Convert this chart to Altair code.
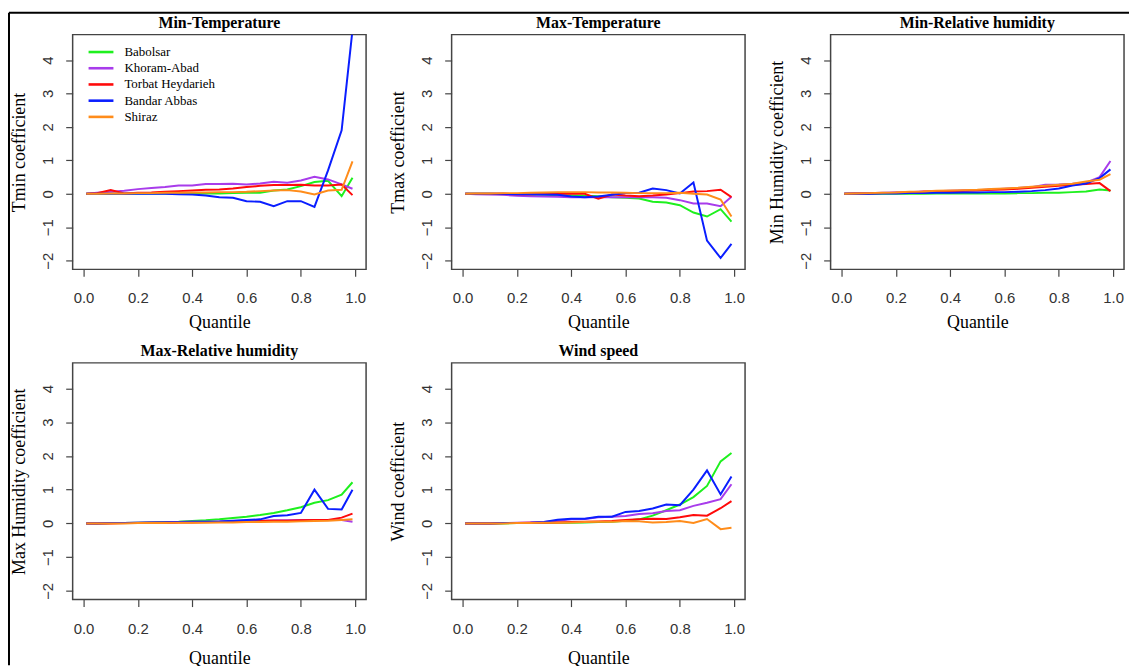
import altair as alt
import pandas as pd

quantiles = [0.01, 0.05, 0.10, 0.15, 0.20, 0.25, 0.30, 0.35, 0.40, 0.45, 0.50,
             0.55, 0.60, 0.65, 0.70, 0.75, 0.80, 0.85, 0.90, 0.95, 0.99]
stations = ["Babolsar", "Khoram-Abad", "Torbat Heydarieh", "Bandar Abbas", "Shiraz"]
colors = ["#1EF01E", "#A83CEB", "#FF0A0A", "#0A1EFF", "#FF8C1A"]

panel_titles = ["Min-Temperature", "Max-Temperature", "Min-Relative humidity",
                "Max-Relative humidity", "Wind speed"]
y_titles = ["Tmin coefficient", "Tmax coefficient", "Min Humidity coefficient",
            "Max Humidity coefficient", "Wind coefficient"]

# Min-Temperature
tmin_babolsar = [0, 0, 0, 0, 0.01, 0.01, 0.01, 0.01, 0.01, 0.01, 0.01, 0.02, 0.03, 0.03, 0.10, 0.13, 0.23, 0.35, 0.39, -0.07, 0.48]
tmin_khoram = [0, 0.03, 0.06, 0.09, 0.14, 0.17, 0.20, 0.25, 0.25, 0.29, 0.29, 0.30, 0.28, 0.31, 0.36, 0.33, 0.40, 0.51, 0.43, 0.28, 0.15]
tmin_torbat = [0, 0.02, 0.11, 0.01, 0.03, 0.04, 0.06, 0.08, 0.10, 0.12, 0.13, 0.16, 0.20, 0.24, 0.26, 0.26, 0.27, 0.25, 0.25, 0.28, -0.04]
tmin_bandar = [0, 0, 0, 0, 0, 0, 0, -0.01, -0.02, -0.05, -0.10, -0.12, -0.22, -0.24, -0.37, -0.22, -0.22, -0.39, 0.70, 1.90, 4.90]
tmin_shiraz = [0, 0, 0.01, 0.01, 0.02, 0.02, 0.03, 0.03, 0.04, 0.04, 0.05, 0.05, 0.06, 0.08, 0.10, 0.11, 0.07, -0.02, 0.10, 0.12, 0.97]

# Max-Temperature
tmax_babolsar = [0, 0, 0, -0.01, -0.02, -0.03, -0.03, -0.04, -0.05, -0.06, -0.07, -0.10, -0.12, -0.14, -0.24, -0.26, -0.34, -0.56, -0.68, -0.46, -0.83]
tmax_khoram = [0, -0.01, -0.02, -0.03, -0.06, -0.07, -0.08, -0.09, -0.10, -0.10, -0.10, -0.10, -0.10, -0.10, -0.10, -0.12, -0.19, -0.29, -0.29, -0.37, -0.09]
tmax_torbat = [0, 0, 0, 0, -0.01, -0.01, 0, 0, 0, 0, -0.15, -0.02, -0.05, -0.07, -0.05, -0.02, 0.02, 0.07, 0.08, 0.12, -0.10]
tmax_bandar = [0, 0, 0, 0, -0.01, -0.01, -0.02, -0.03, -0.08, -0.10, -0.08, -0.03, 0.02, 0.03, 0.16, 0.11, 0.01, 0.34, -1.40, -1.92, -1.50]
tmax_shiraz = [0, 0.01, 0.01, 0.02, 0.02, 0.03, 0.04, 0.05, 0.05, 0.05, 0.04, 0.04, 0.03, 0.02, 0.02, 0.02, 0.03, 0, -0.02, -0.17, -0.68]

# Min-Relative humidity
rhmin_babolsar = [0, 0, 0, 0, 0, 0, 0, 0.01, 0.01, 0.01, 0.01, 0.01, 0.01, 0.02, 0.02, 0.03, 0.03, 0.05, 0.07, 0.13, 0.10]
rhmin_khoram = [0, 0.01, 0.02, 0.03, 0.04, 0.05, 0.07, 0.08, 0.09, 0.10, 0.11, 0.13, 0.15, 0.17, 0.20, 0.27, 0.28, 0.30, 0.33, 0.50, 0.98]
rhmin_torbat = [0, 0.01, 0.01, 0.02, 0.03, 0.04, 0.06, 0.07, 0.08, 0.09, 0.10, 0.12, 0.13, 0.15, 0.18, 0.21, 0.24, 0.27, 0.29, 0.32, 0.08]
rhmin_bandar = [0, 0, 0, 0.01, 0.01, 0.02, 0.02, 0.03, 0.03, 0.04, 0.04, 0.05, 0.05, 0.06, 0.08, 0.11, 0.16, 0.25, 0.31, 0.47, 0.73]
rhmin_shiraz = [0, 0.01, 0.02, 0.03, 0.04, 0.06, 0.07, 0.09, 0.10, 0.11, 0.12, 0.14, 0.16, 0.18, 0.21, 0.24, 0.27, 0.30, 0.37, 0.42, 0.59]

# Max-Relative humidity
rhmax_babolsar = [0, 0, 0.01, 0.01, 0.02, 0.03, 0.04, 0.05, 0.07, 0.09, 0.12, 0.16, 0.20, 0.25, 0.31, 0.39, 0.48, 0.61, 0.69, 0.85, 1.22]
rhmax_khoram = [0, 0, 0.01, 0.01, 0.02, 0.02, 0.03, 0.04, 0.05, 0.05, 0.06, 0.07, 0.08, 0.08, 0.09, 0.09, 0.10, 0.10, 0.10, 0.10, 0.05]
rhmax_torbat = [0, 0, 0, 0.01, 0.01, 0.02, 0.02, 0.03, 0.03, 0.04, 0.04, 0.05, 0.06, 0.07, 0.08, 0.08, 0.09, 0.10, 0.10, 0.17, 0.29]
rhmax_bandar = [0, 0, 0.01, 0.01, 0.02, 0.03, 0.03, 0.04, 0.05, 0.05, 0.06, 0.08, 0.10, 0.12, 0.22, 0.24, 0.31, 1.00, 0.43, 0.41, 1.00]
rhmax_shiraz = [0, 0, 0, 0, 0.01, 0.01, 0.01, 0.02, 0.02, 0.02, 0.03, 0.03, 0.04, 0.04, 0.05, 0.05, 0.06, 0.07, 0.08, 0.10, 0.12]

# Wind speed
wind_babolsar = [0, 0, 0, 0, 0.01, 0.01, 0.01, 0.02, 0.02, 0.03, 0.04, 0.05, 0.08, 0.12, 0.23, 0.39, 0.56, 0.78, 1.11, 1.84, 2.09]
wind_khoram = [0, 0, 0, 0.01, 0.02, 0.03, 0.04, 0.08, 0.12, 0.13, 0.18, 0.20, 0.22, 0.28, 0.30, 0.37, 0.39, 0.52, 0.61, 0.72, 1.16]
wind_torbat = [0, 0, 0, 0.01, 0.01, 0.02, 0.02, 0.03, 0.04, 0.05, 0.06, 0.07, 0.10, 0.12, 0.14, 0.13, 0.18, 0.25, 0.23, 0.45, 0.66]
wind_bandar = [0, 0, 0, 0.01, 0.01, 0.02, 0.04, 0.11, 0.14, 0.14, 0.20, 0.20, 0.34, 0.37, 0.44, 0.56, 0.54, 1.00, 1.57, 0.86, 1.39]
wind_shiraz = [0, 0, 0, 0, 0.01, 0.01, 0.02, 0.02, 0.03, 0.04, 0.05, 0.05, 0.07, 0.06, 0.03, 0.04, 0.07, 0.01, 0.13, -0.17, -0.13]

series = [
    [tmin_babolsar, tmin_khoram, tmin_torbat, tmin_bandar, tmin_shiraz],
    [tmax_babolsar, tmax_khoram, tmax_torbat, tmax_bandar, tmax_shiraz],
    [rhmin_babolsar, rhmin_khoram, rhmin_torbat, rhmin_bandar, rhmin_shiraz],
    [rhmax_babolsar, rhmax_khoram, rhmax_torbat, rhmax_bandar, rhmax_shiraz],
    [wind_babolsar, wind_khoram, wind_torbat, wind_bandar, wind_shiraz],
]

W, H1, H2 = 295, 236, 238
SERIF = "Liberation Serif"
SANS = "Liberation Sans"


def make_df(vals):
    rows = []
    for si, (st, v) in enumerate(zip(stations, vals)):
        for q, y in zip(quantiles, v):
            rows.append({"q": q, "coef": y, "station": st, "ord": si})
    return pd.DataFrame(rows)


def panel(i):
    df = make_df(series[i])
    if i == 0:
        legend = alt.Legend(title=None, orient="none", legendX=22, legendY=11,
                            symbolType="M-2.5,0H2.5", symbolSize=100, symbolStrokeWidth=2.6,
                            labelFont=SERIF, labelFontSize=13, labelColor="black",
                            labelOffset=17, rowPadding=2.3, padding=0)
    else:
        legend = None
    second_row = i >= 3
    line = alt.Chart(df).mark_line(strokeWidth=2, clip=True).encode(
        x=alt.X("q:Q", title="Quantile",
                scale=alt.Scale(domain=[-0.04, 1.04], nice=False, zero=False),
                axis=alt.Axis(values=[0, 0.2, 0.4, 0.6, 0.8, 1.0], format=".1f",
                              labelPadding=15 if second_row else 14,
                              titlePadding=13 if second_row else 8)),
        y=alt.Y("coef:Q", title=y_titles[i],
                scale=alt.Scale(domain=[-2.26, 4.76], nice=False, zero=False),
                axis=alt.Axis(values=[-2, -1, 0, 1, 2, 3, 4])),
        color=alt.Color("station:N", scale=alt.Scale(domain=stations, range=colors),
                        legend=legend),
        order=alt.Order("ord:Q"),
        detail="station:N",
    )
    title = alt.TitleParams(panel_titles[i], font=SERIF, fontSize=16, fontWeight="bold",
                            color="black", anchor="middle", offset=4)
    return line.properties(width=W, height=H2 if second_row else H1, title=title)


# decorative page frame (top and left edge lines), drawn from an empty cell
one = pd.DataFrame({"k": [0]})
frame_top = alt.Chart(one).mark_rule(color="black", strokeWidth=2).encode(
    x=alt.value(-826), x2=alt.value(300), y=alt.value(-352))
frame_left = alt.Chart(one).mark_rule(color="black", strokeWidth=2).encode(
    x=alt.value(-826), y=alt.value(-352), y2=alt.value(304))
frame = alt.layer(frame_top, frame_left).properties(
    width=W, height=H2, view=alt.ViewBackground(strokeOpacity=0))

chart = alt.concat(
    *[panel(i) for i in range(5)], frame,
    columns=3,
    spacing={"row": 94, "column": 86},
    bounds="flush",
).resolve_scale(color="independent").properties(
    padding={"left": 0, "top": 2, "right": 0, "bottom": 0}
).configure_view(
    stroke="#444", strokeWidth=1.5
).configure_axis(
    domain=False, grid=False, tickSize=7, tickColor="#444", tickWidth=1.2,
    labelFont=SANS, labelFontSize=15, labelColor="#333",
    titleFont=SERIF, titleFontSize=18, titleFontWeight="normal", titleColor="black",
).configure_axisX(
    labelPadding=14, titlePadding=8,
).configure_axisY(
    labelAngle=270, labelAlign="center", labelBaseline="bottom",
    labelPadding=10, titlePadding=12,
)

chart.save("out.html", embed_options={"renderer": "svg", "actions": False})
